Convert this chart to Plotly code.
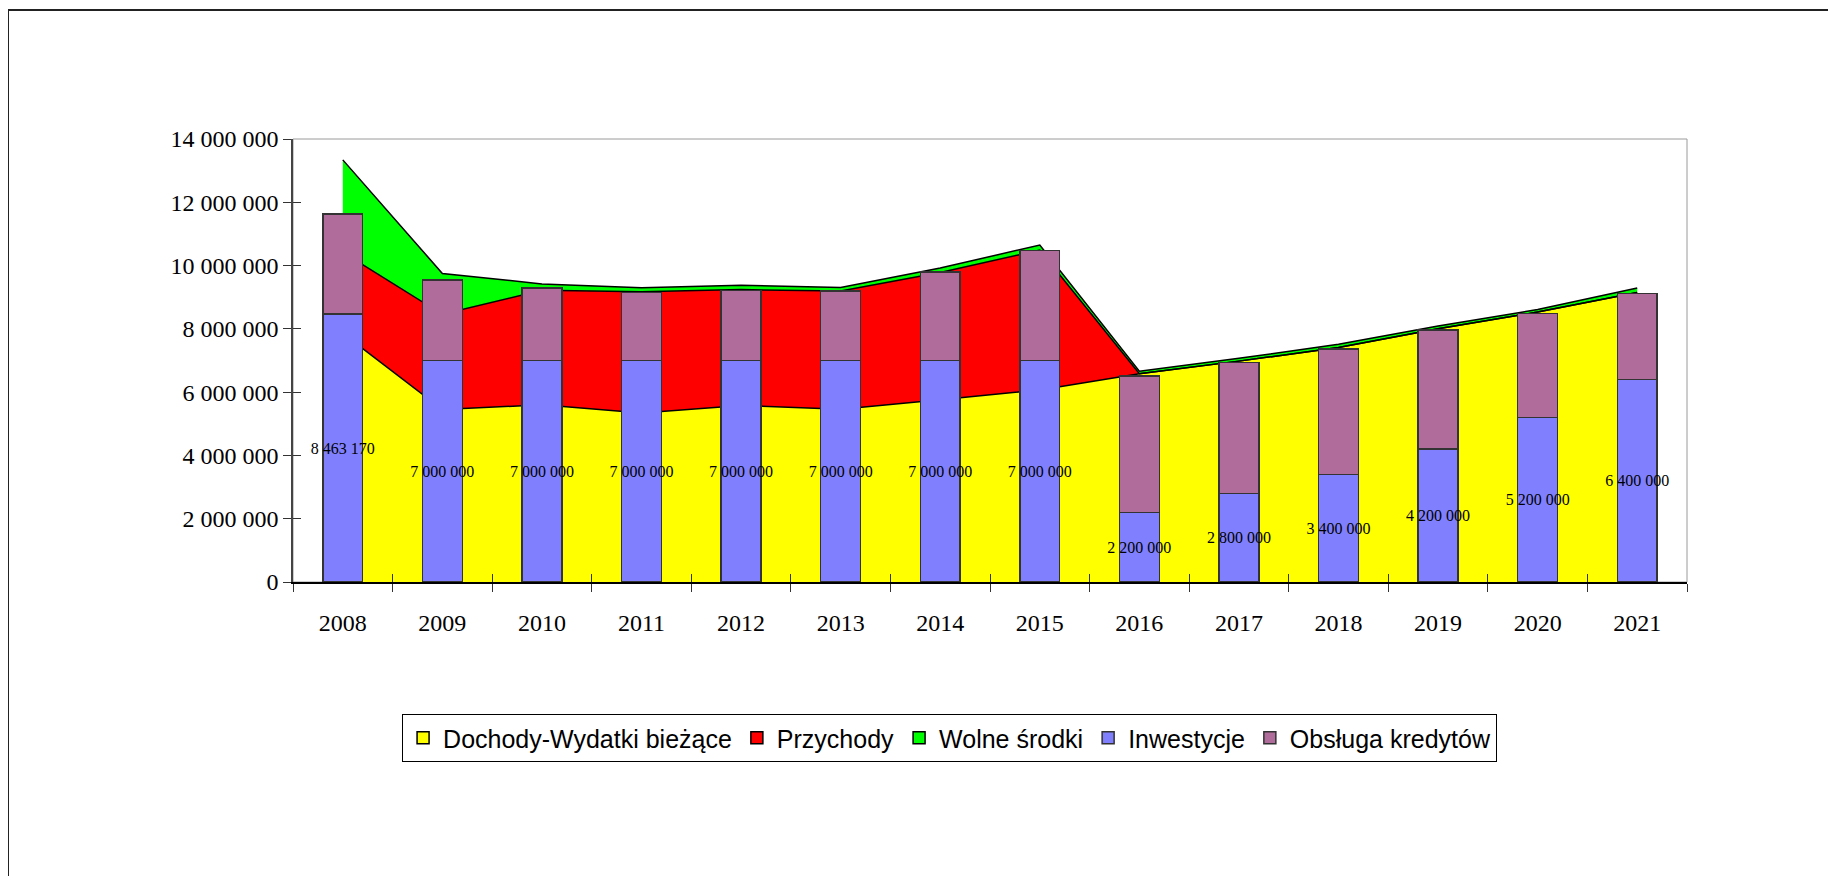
import plotly.graph_objects as go

years = ["2008", "2009", "2010", "2011", "2012", "2013", "2014",
         "2015", "2016", "2017", "2018", "2019", "2020", "2021"]

# stacked areas
dochody_wydatki = [7860000, 5450000, 5600000, 5340000, 5580000, 5460000, 5760000,
                   6070000, 6580000, 6980000, 7410000, 8000000, 8530000, 9150000]
przychody = [2560000, 3010000, 3620000, 3830000, 3660000, 3740000, 4020000,
             4420000, 0, 0, 0, 0, 0, 0]
wolne_srodki = [2920000, 1290000, 200000, 130000, 140000, 110000, 140000,
                160000, 80000, 90000, 100000, 90000, 80000, 140000]

# stacked bars
inwestycje = [8463170, 7000000, 7000000, 7000000, 7000000, 7000000, 7000000,
              7000000, 2200000, 2800000, 3400000, 4200000, 5200000, 6400000]
obsluga_kredytow = [3160000, 2540000, 2290000, 2150000, 2220000, 2200000, 2790000,
                    3480000, 4310000, 4140000, 3970000, 3760000, 3280000, 2710000]

serif = "Liberation Serif"
sans = "Liberation Sans"

areas = [
    ("Dochody-Wydatki bieżące", dochody_wydatki, "#FFFF00"),
    ("Przychody", przychody, "#FF0000"),
    ("Wolne środki", wolne_srodki, "#00FF00"),
]

fig = go.Figure()

# filled areas (no outline)
for name, vals, col in areas:
    fig.add_trace(
        go.Scatter(
            x=years, y=vals, name=name, mode="none",
            stackgroup="fill", fillcolor=col,
            legendgroup=name, showlegend=False,
            xaxis="x", yaxis="y",
        )
    )
# black outlines of the stacked areas
for name, vals, col in areas:
    fig.add_trace(
        go.Scatter(
            x=years, y=vals, name=name, mode="lines",
            stackgroup="edge", fill="none",
            line=dict(color="black", width=1.5),
            legendgroup=name, showlegend=False, hoverinfo="skip",
            xaxis="x", yaxis="y",
        )
    )
# square legend keys for the areas
for i, (name, vals, col) in enumerate(areas):
    fig.add_trace(
        go.Bar(
            x=[None], y=[None], name=name, legendgroup=name, legendrank=i + 1,
            marker=dict(color=col, line=dict(color="black", width=1.5)),
            xaxis="x2", yaxis="y2",
        )
    )

# bars on overlaid axes so they sit above the areas
fig.add_trace(
    go.Bar(
        x=years,
        y=inwestycje,
        name="Inwestycje",
        legendrank=4,
        marker=dict(color="#8080FF", line=dict(color="#333333", width=1.5)),
        texttemplate="%{y:,.0f}",
        textposition="inside",
        insidetextanchor="middle",
        textangle=0,
        constraintext="none",
        textfont=dict(family=serif, size=16, color="black"),
        cliponaxis=False,
        xaxis="x2",
        yaxis="y2",
    )
)
fig.add_trace(
    go.Bar(
        x=years,
        y=obsluga_kredytow,
        name="Obsługa kredytów",
        legendrank=5,
        marker=dict(color="#B06C9A", line=dict(color="#333333", width=1.5)),
        xaxis="x2",
        yaxis="y2",
    )
)

W, H = 1820, 868
fig.update_layout(
    width=W,
    height=H,
    margin=dict(l=285, r=141, t=131, b=294),
    paper_bgcolor="white",
    plot_bgcolor="white",
    separators=", ",
    barmode="stack",
    bargap=0.6,
    showlegend=True,
    legend=dict(
        orientation="h",
        x=0.471,
        xanchor="center",
        y=-0.298,
        yanchor="top",
        traceorder="normal",
        bordercolor="black",
        borderwidth=1,
        bgcolor="white",
        font=dict(family=sans, size=25, color="black"),
        itemwidth=30,
        tracegroupgap=0,
    ),
    xaxis=dict(
        type="category",
        range=[-0.5, 13.5],
        tickson="boundaries",
        ticks="outside",
        ticklen=8,
        tickcolor="#333333",
        showline=True,
        linecolor="black",
        linewidth=1.5,
        showgrid=False,
        tickfont=dict(family=serif, size=24, color="black"),
        ticklabelstandoff=18,
    ),
    yaxis=dict(
        range=[0, 14000000],
        dtick=2000000,
        tickformat=",.0f",
        ticks="outside",
        ticklen=8,
        tickcolor="#333333",
        showline=True,
        linecolor="#444444",
        linewidth=1.5,
        showgrid=False,
        zeroline=False,
        tickfont=dict(family=serif, size=24, color="black"),
    ),
    xaxis2=dict(
        type="category",
        overlaying="x",
        anchor="y2",
        range=[-0.5, 13.5],
        tickson="boundaries",
        ticks="inside",
        ticklen=8,
        tickcolor="#333333",
        showticklabels=False,
        showgrid=False,
        showline=False,
    ),
    yaxis2=dict(
        overlaying="y",
        anchor="x2",
        side="left",
        range=[0, 14000000],
        dtick=2000000,
        ticks="inside",
        ticklen=8,
        tickcolor="#333333",
        showticklabels=False,
        showgrid=False,
        zeroline=False,
    ),
    shapes=[
        # plot area border
        dict(type="rect", xref="paper", yref="paper", x0=0, x1=1, y0=0, y1=1,
             line=dict(color="#9a9a9a", width=1), layer="below"),
        # outer chart frame
        dict(type="rect", xref="paper", yref="paper",
             x0=-285 / 1394, x1=2, y0=-2, y1=(573.7 - 2) / 442.7,
             line=dict(color="#222222", width=2), layer="below"),
    ],
)

fig.write_html("out.html")
